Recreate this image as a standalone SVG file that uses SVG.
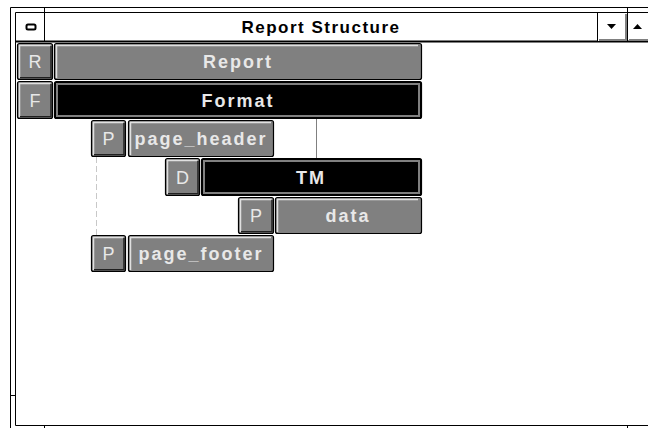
<svg xmlns="http://www.w3.org/2000/svg" width="648" height="428" viewBox="0 0 648 428">
<style>
.frame{fill:none;stroke:#000;stroke-width:1}
.btn{fill:#808080;stroke:#000;stroke-width:1.2}
.bar{fill:#808080;stroke:#000;stroke-width:1.2}
.sel{fill:#000;stroke:#000;stroke-width:1.2}
.selin{fill:none;stroke:#808080;stroke-width:2}
.hl{fill:none;stroke:#e0e0e0;stroke-width:1.5}
.sh{fill:none;stroke:#202020;stroke-width:1.5}
.bl{font-family:"Liberation Sans",Arial,sans-serif;font-size:18px;fill:#e8e8e8;text-anchor:middle}
.tl{font-family:"Liberation Sans",Arial,sans-serif;font-size:18px;font-weight:bold;fill:#e8e8e8;text-anchor:middle;letter-spacing:2px}
.title{font-family:"Liberation Sans",Arial,sans-serif;font-size:17px;font-weight:bold;fill:#000;text-anchor:middle;letter-spacing:1.5px}
</style>
<rect x="0" y="0" width="648" height="428" fill="#fff"/>
<g id="window">
  <path class="frame" d="M10.5 7.5 H648 M10.5 7.5 V428 M15.5 12.5 H648 M15.5 12.5 V425.5 H648 M10.5 395.5 H15.5 M44.5 7.5 V41 M597.5 12.5 V41 M627.5 7.5 V41 M44.5 425.5 V428 M627.5 425.5 V428"/>
  <line x1="15" y1="41.5" x2="648" y2="41.5" stroke="#000" stroke-width="2"/>
  <rect x="26.5" y="24.5" width="9" height="5" rx="1.5" fill="#fff" stroke="#000" stroke-width="2"/>
  <text class="title" x="321" y="33">Report Structure</text>
  <rect x="598" y="13" width="29" height="28" fill="#fff"/>
  <path d="M599 40 H626 V14" fill="none" stroke="#808080" stroke-width="2"/>
  <path d="M607 24 H616 L611.5 29 Z" fill="#000"/>
  <path d="M629 40 H648" fill="none" stroke="#808080" stroke-width="2"/>
  <path d="M633 29 H642 L637.5 24 Z" fill="#000"/>
</g>
<g id="connectors">
  <line x1="316.5" y1="118" x2="316.5" y2="158" stroke="#808080" stroke-width="1"/>
  <line x1="96.5" y1="157" x2="96.5" y2="235" stroke="#c8c8c8" stroke-width="1" stroke-dasharray="6,3"/>
</g>
<g id="node-report">
  <rect class="btn" x="17.5" y="43.5" width="35" height="36" rx="2"/>
  <path class="hl" d="M19.5 78 V45.5 H50.5"/>
  <path class="sh" d="M20 77.8 H51 V46"/>
  <rect class="bar" x="54.5" y="43.5" width="367" height="36" rx="2"/>
  <path class="hl" d="M56.5 78 V45.5 H418"/>
  <text class="bl" x="35" y="68">R</text>
  <text class="tl" x="238" y="68">Report</text>
</g>
<g id="node-format">
  <rect class="btn" x="17.5" y="81.5" width="35" height="37" rx="2"/>
  <path class="hl" d="M19.5 117 V83.5 H50.5"/>
  <path class="sh" d="M20 116.8 H51 V84"/>
  <rect class="sel" x="54.5" y="81.5" width="367" height="37" rx="2"/>
  <rect class="selin" x="57" y="84" width="362" height="32"/>
  <text class="bl" x="35" y="107">F</text>
  <text class="tl" x="238" y="107">Format</text>
</g>
<g id="node-page_header">
  <rect class="btn" x="91.5" y="120.5" width="34" height="36" rx="2"/>
  <path class="hl" d="M93.5 155 V122.5 H123.5"/>
  <path class="sh" d="M94 154.8 H124 V123"/>
  <rect class="bar" x="128.5" y="120.5" width="145" height="36" rx="2"/>
  <path class="hl" d="M130.5 155 V122.5 H271"/>
  <text class="bl" x="108.5" y="145">P</text>
  <text class="tl" x="201" y="145">page_header</text>
</g>
<g id="node-TM">
  <rect class="btn" x="165.5" y="158.5" width="34" height="37" rx="2"/>
  <path class="hl" d="M167.5 194 V160.5 H197.5"/>
  <path class="sh" d="M168 193.8 H198 V161"/>
  <rect class="sel" x="201.5" y="158.5" width="220" height="37" rx="2"/>
  <rect class="selin" x="204" y="161" width="215" height="32"/>
  <text class="bl" x="182.5" y="184">D</text>
  <text class="tl" x="311" y="184">TM</text>
</g>
<g id="node-data">
  <rect class="btn" x="238.5" y="197.5" width="35" height="36" rx="2"/>
  <path class="hl" d="M240.5 232 V199.5 H271.5"/>
  <path class="sh" d="M241 231.8 H272 V200"/>
  <rect class="bar" x="275.5" y="197.5" width="146" height="36" rx="2"/>
  <path class="hl" d="M277.5 232 V199.5 H418"/>
  <text class="bl" x="256" y="222">P</text>
  <text class="tl" x="348" y="222">data</text>
</g>
<g id="node-page_footer">
  <rect class="btn" x="91.5" y="235.5" width="34" height="36" rx="2"/>
  <path class="hl" d="M93.5 270 V237.5 H123.5"/>
  <path class="sh" d="M94 269.8 H124 V238"/>
  <rect class="bar" x="128.5" y="235.5" width="145" height="36" rx="2"/>
  <path class="hl" d="M130.5 270 V237.5 H271"/>
  <text class="bl" x="108.5" y="260">P</text>
  <text class="tl" x="201" y="260">page_footer</text>
</g>
</svg>
